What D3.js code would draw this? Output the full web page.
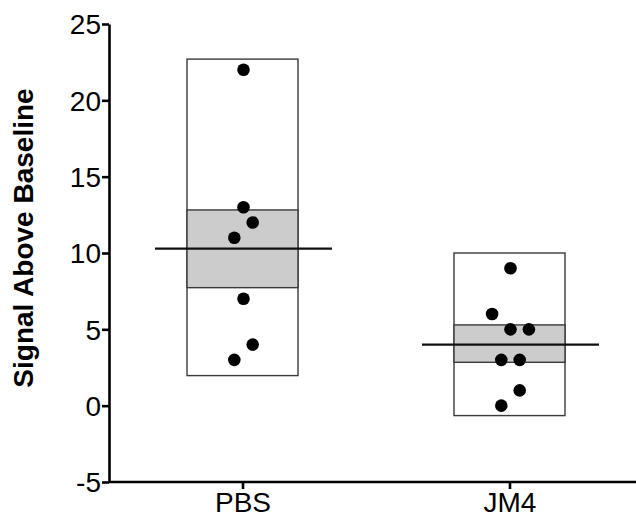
<!DOCTYPE html>
<html><head><meta charset="utf-8">
<script src="https://cdn.jsdelivr.net/npm/d3@7"></script>
<style>
html,body{margin:0;padding:0;background:#fff;}
svg{display:block;}
text{font-family:"Liberation Sans", Arial, sans-serif;}
</style></head>
<body>
<svg id="chart" width="636" height="519"></svg>
<script>
// ---- data ----
const categories = ["PBS", "JM4"];
const pbsValues = [22, 13, 12, 11, 7, 4, 3];
const jm4Values = [9, 6, 5, 5, 3, 3, 1, 0];
const pbsSlots = [0, 0, 1, -1, 0, 1, -1];
const jm4Slots = [0, -2, 0, 2, -1, 1, 1, -1];
const rangeLow = [1.97, -0.65];
const rangeHigh = [22.7, 10.0];
const boxLow = [7.73, 2.84];
const boxHigh = [12.82, 5.29];
const yTicks = [-5, 0, 5, 10, 15, 20, 25];
const yLabel = "Signal Above Baseline";

const groups = categories.map((c, i) => ({
  name: c,
  values: i === 0 ? pbsValues : jm4Values,
  slots: i === 0 ? pbsSlots : jm4Slots,
  lo: rangeLow[i], hi: rangeHigh[i], bLo: boxLow[i], bHi: boxHigh[i]
}));

const svg = d3.select("#chart");
const y = d3.scaleLinear().domain([-5, 25]).range([482, 24]);
const x = d3.scalePoint().domain(categories).range([109, 643]).padding(0.5);

const boxW = 111, lineW = 177, slotW = 9.2, r = 6.3;

const g = svg.append("g");
groups.forEach(d => {
  const cx = x(d.name);
  g.append("rect").attr("x", cx - boxW/2).attr("width", boxW)
    .attr("y", y(d.hi)).attr("height", y(d.lo) - y(d.hi))
    .attr("fill", "#fff").attr("stroke", "#3a3a3a").attr("stroke-width", 1.4);
  g.append("rect").attr("x", cx - boxW/2).attr("width", boxW)
    .attr("y", y(d.bHi)).attr("height", y(d.bLo) - y(d.bHi))
    .attr("fill", "#cccccc").attr("stroke", "#3a3a3a").attr("stroke-width", 1.4);
  const m = d3.mean(d.values);
  g.append("line").attr("x1", cx - lineW/2 + 1).attr("x2", cx + lineW/2 + 1)
    .attr("y1", y(m)).attr("y2", y(m))
    .attr("stroke", "#111").attr("stroke-width", 2.2);
  g.selectAll(null).data(d.values.map((v, i) => ({v, s: d.slots[i]})))
    .enter().append("circle")
    .attr("cx", p => cx + 1 + p.s * slotW)
    .attr("cy", p => y(p.v))
    .attr("r", r).attr("fill", "#000");
});

// axes
const yAxis = svg.append("g").attr("transform", "translate(109,0)")
  .call(d3.axisLeft(y).tickValues(yTicks).tickFormat(d => String(d))
    .tickSize(7).tickSizeOuter(0).tickPadding(1));
const xAxis = svg.append("g").attr("transform", "translate(0,482)")
  .call(d3.axisBottom(x).tickSize(7).tickSizeOuter(0).tickPadding(3));
xAxis.select(".domain").attr("d", "M109,0H636");
[yAxis, xAxis].forEach(a => {
  a.selectAll(".domain").attr("stroke", "#000").attr("stroke-width", 2.6);
  a.selectAll(".tick line").attr("stroke", "#000").attr("stroke-width", 2.6);
  a.selectAll(".tick text").attr("font-size", 28).attr("fill", "#000")
    .attr("font-family", "'Liberation Sans', Arial, sans-serif");
});
yAxis.selectAll(".tick text").attr("dy", "0.35em");

svg.append("text")
  .attr("transform", "translate(33,238) rotate(-90)")
  .attr("text-anchor", "middle")
  .attr("font-size", 28).attr("font-weight", "bold")
  .attr("fill", "#000")
  .text(yLabel);
</script>
</body></html>
